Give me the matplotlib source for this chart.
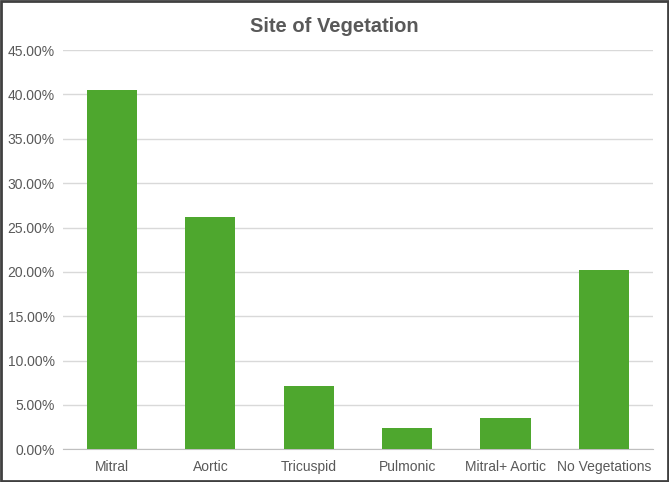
import matplotlib
matplotlib.use("Agg")
import matplotlib.pyplot as plt
from matplotlib.ticker import FuncFormatter, MultipleLocator
from matplotlib.patches import Rectangle

categories = ["Mitral", "Aortic", "Tricuspid", "Pulmonic", "Mitral+ Aortic", "No Vegetations"]
values = [40.48, 26.19, 7.14, 2.38, 3.57, 20.24]

plt.rcParams['font.family'] = ['Liberation Sans', 'DejaVu Sans']
fig = plt.figure(figsize=(6.69, 4.82), dpi=100)
ax = fig.add_axes([0.094, 0.068, 0.882, 0.828])

x = range(len(categories))
ax.bar(x, values, width=0.51, color="#4EA72E", zorder=3)
ax.set_xlim(-0.5, len(categories) - 0.5)
ax.set_ylim(0, 45)
ax.yaxis.set_major_locator(MultipleLocator(5))
ax.yaxis.set_major_formatter(FuncFormatter(lambda v, p: f"{v:.2f}%"))
ax.set_xticks(list(x))
ax.set_xticklabels(categories)
ax.grid(axis='y', color="#D9D9D9", linewidth=1, zorder=0)
for s in ["top", "right", "left"]:
    ax.spines[s].set_visible(False)
ax.spines["bottom"].set_color("#BFBFBF")
ax.tick_params(axis='both', length=0, labelsize=10, colors="#595959", pad=6)
ax.tick_params(axis='x', pad=8)
fig.text(0.5, 0.945, "Site of Vegetation", ha='center', va='center',
         fontsize=14.5, fontweight='bold', color="#595959")
fig.patches.append(Rectangle((0.0015, 0.002), 0.997, 0.996, transform=fig.transFigure,
                             fill=False, edgecolor="#404040", linewidth=2))
fig.savefig("out.png", dpi=100)
